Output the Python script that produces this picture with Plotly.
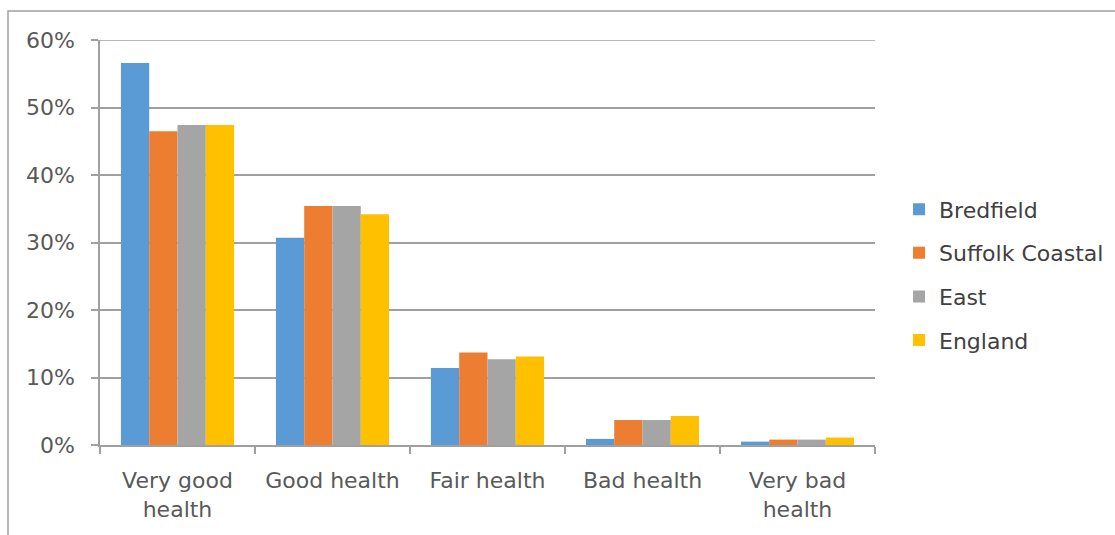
import plotly.graph_objects as go

categories = ["Very good<br>health", "Good health", "Fair health", "Bad health", "Very bad<br>health"]
series_names = ["Bredfield", "Suffolk Coastal", "East", "England"]
bredfield = [0.566, 0.307, 0.114, 0.009, 0.005]
suffolk_coastal = [0.465, 0.354, 0.137, 0.037, 0.008]
east = [0.474, 0.354, 0.127, 0.037, 0.008]
england = [0.474, 0.342, 0.131, 0.043, 0.011]
colors = ["#5B9BD5", "#ED7D31", "#A5A5A5", "#FFC000"]
y_ticks = [0, 0.1, 0.2, 0.3, 0.4, 0.5, 0.6]

fig = go.Figure()
for i, (name, vals) in enumerate(zip(series_names, [bredfield, suffolk_coastal, east, england])):
    fig.add_trace(go.Bar(x=categories, y=vals, name=name, marker=dict(color=colors[i], line=dict(width=0)),
                         legendgroup=name))

fig.update_layout(
    width=1115, height=535,
    margin=dict(l=100, r=240, t=40, b=90, autoexpand=False),
    paper_bgcolor="white", plot_bgcolor="white",
    barmode="group", bargap=0.27, bargroupgap=0,
    font=dict(family="DejaVu Sans", size=22, color="#595959"),
    showlegend=True,
    legend=dict(x=1.031, y=0.42, xanchor="left", yanchor="middle", tracegroupgap=12,
                font=dict(size=22, color="#404040"), traceorder="grouped", itemwidth=30),
    xaxis=dict(showline=True, linecolor="#a0a0a0", linewidth=1.5, ticks="outside", tickson="boundaries",
               ticklen=7, tickcolor="#a0a0a0", tickwidth=1.5, showgrid=False, ticklabelstandoff=15),
    yaxis=dict(range=[0, 0.6], tickvals=y_ticks, tickformat=".0%", showline=True, linecolor="#a0a0a0",
               linewidth=1.5, ticks="outside", ticklen=7, tickcolor="#a0a0a0", tickwidth=1.5,
               gridcolor="#a0a0a0", gridwidth=1.5, zeroline=False, ticklabelstandoff=12),
    shapes=[dict(type="rect", xref="paper", yref="paper", x0=-0.1187, x1=2, y0=-1, y1=1.0716,
                 line=dict(color="#a0a0a0", width=1.5), fillcolor="rgba(0,0,0,0)", layer="below"),
            dict(type="line", xref="paper", yref="y", x0=0, x1=1, y0=max(y_ticks), y1=max(y_ticks),
                 line=dict(color="#a0a0a0", width=1.5), layer="below")],
)

fig.write_html("out.html")
